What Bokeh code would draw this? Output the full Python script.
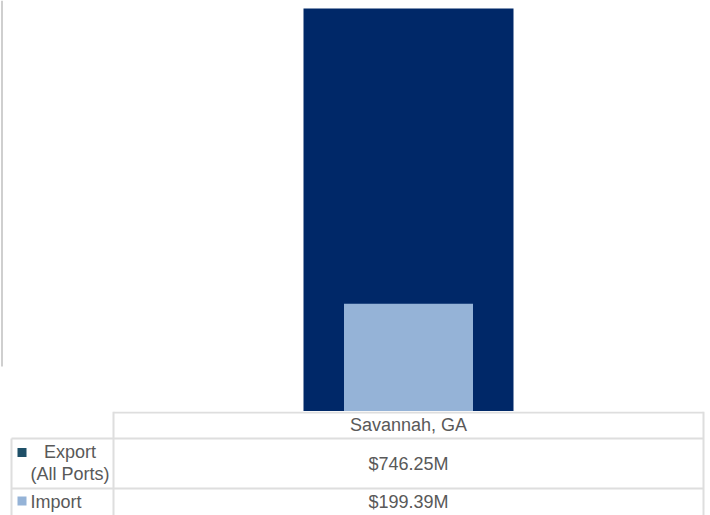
from bokeh.plotting import figure
from bokeh.layouts import column
from bokeh.models import Range1d
from bokeh.core.properties import value
from bokeh.embed import file_html
from bokeh.resources import INLINE

# ---- data ----
cities = ["Savannah, GA"]
export_vals = [746.25]
import_vals = [199.39]
series_names = ["Export\n(All Ports)", "Import"]
series_marker_colors = ["#1F5068", "#95B3D7"]

# ---- styling / layout constants ----
EXPORT_COLOR = "#002868"
IMPORT_COLOR = "#95B3D7"
TEXT_COLOR = "#595959"
GRID_COLOR = "#DEDEDE"
FONT = value("Liberation Sans")
FS = "18px"

W = 710
H_TOP = 411
H_TAB = 104
TOP_PAD = 8            # px above the tallest bar
LABEL_W = 113          # width of the legend/label column of the table (px)
RIGHT_EDGE = 703       # right border of the table (px)
LEFT_EDGE = 11         # left border of the legend column (px)
ROW_Y = [0, 27, 77, 104]  # table row edges (px from top of table)
LEFT_LINE_BOTTOM = 366    # px from top where the thin left line ends

band_px = RIGHT_EDGE - LABEL_W
idx = list(range(len(cities)))

# ---- bar chart ----
ymax = max(export_vals)
ytop = ymax * H_TOP / (H_TOP - TOP_PAD)
p = figure(width=W, height=H_TOP, output_backend="svg", toolbar_location=None,
           x_range=Range1d(-0.5 - LABEL_W / band_px,
                           len(cities) - 0.5 + (W - RIGHT_EDGE) / band_px),
           y_range=Range1d(0, ytop),
           min_border=0, min_border_left=0, min_border_right=0,
           min_border_top=0, min_border_bottom=0)
p.axis.visible = False
p.grid.visible = False
p.outline_line_color = None
p.background_fill_color = "white"
p.border_fill_color = "white"

p.vbar(x=idx, top=export_vals, width=210 / band_px, color=EXPORT_COLOR, line_color=None)
p.vbar(x=idx, top=import_vals, width=129 / band_px, color=IMPORT_COLOR, line_color=None)

# thin grey line at the left edge
xl = p.x_range.start + 1.5 / band_px
p.segment(x0=[xl], y0=[ytop * (1 - LEFT_LINE_BOTTOM / H_TOP)],
          x1=[xl], y1=[ytop], line_color="#CFCFCF", line_width=2)

# ---- data table ----
t = figure(width=W, height=H_TAB, output_backend="svg", toolbar_location=None,
           x_range=Range1d(0, W), y_range=Range1d(H_TAB, 0),
           min_border=0, min_border_left=0, min_border_right=0,
           min_border_top=0, min_border_bottom=0)
t.axis.visible = False
t.grid.visible = False
t.outline_line_color = None

# grid lines
x0s = [LABEL_W, LEFT_EDGE, LEFT_EDGE, LABEL_W, LEFT_EDGE, RIGHT_EDGE]
y0s = [1, ROW_Y[1], ROW_Y[2], 0, ROW_Y[1], 0]
x1s = [RIGHT_EDGE, RIGHT_EDGE, RIGHT_EDGE, LABEL_W, LEFT_EDGE, RIGHT_EDGE]
y1s = [1, ROW_Y[1], ROW_Y[2], H_TAB, H_TAB, H_TAB]
t.segment(x0=x0s, y0=y0s, x1=x1s, y1=y1s, line_color=GRID_COLOR, line_width=2)

col_centers = [LABEL_W + band_px / 2 + band_px * i for i in idx]

# header
t.text(x=col_centers, y=[13.5] * len(cities), text=cities,
       text_font=FONT, text_font_size=FS, text_color=TEXT_COLOR,
       text_align="center", text_baseline="middle")

# values
rows = [export_vals, import_vals]
row_text_y = [52, 90]
for vals, ty in zip(rows, row_text_y):
    t.text(x=col_centers, y=[ty] * len(vals), text=[f"${v:.2f}M" for v in vals],
           text_font=FONT, text_font_size=FS, text_color=TEXT_COLOR,
           text_align="center", text_baseline="middle")

# legend column
t.scatter(x=[21.5, 21.5], y=[41, 89.5], marker="square", size=9,
          fill_color=series_marker_colors, line_color=None)
t.text(x=[69.5], y=[51], text=[series_names[0]],
       text_font=FONT, text_font_size=FS, text_color=TEXT_COLOR,
       text_align="center", text_baseline="middle", text_line_height=1.1)
t.text(x=[30], y=[90], text=[series_names[1]],
       text_font=FONT, text_font_size=FS, text_color=TEXT_COLOR,
       text_align="left", text_baseline="middle")

layout = column(p, t, spacing=0)
open("out.html", "w").write(file_html(layout, INLINE))
